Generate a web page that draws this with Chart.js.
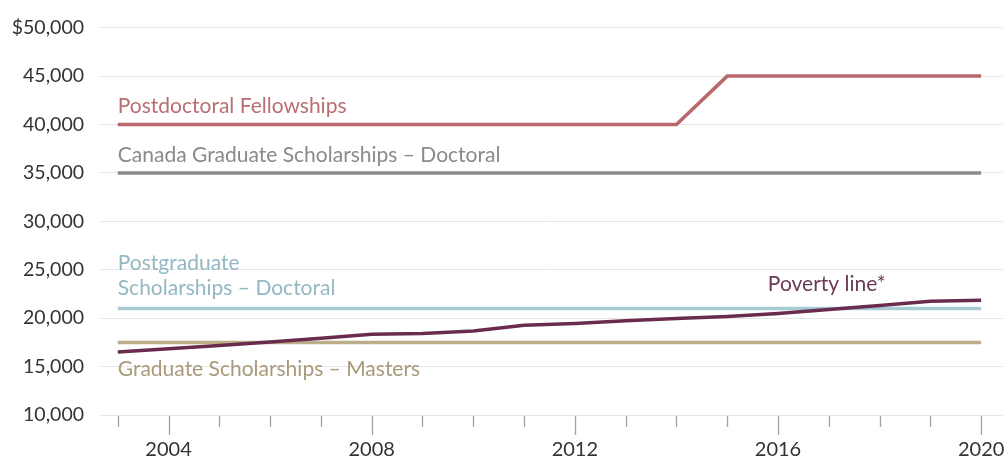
<!DOCTYPE html>
<html>
<head>
<meta charset="utf-8">
<script src="https://cdn.jsdelivr.net/npm/chart.js@4"></script>
<style>
  html, body { margin: 0; padding: 0; background: #fff; }
  #wrap { width: 1006px; height: 460px; position: relative; }
</style>
</head>
<body>
<div id="wrap"><canvas id="c"></canvas></div>
<script>
const years = [2003, 2004, 2005, 2006, 2007, 2008, 2009, 2010, 2011, 2012, 2013, 2014, 2015, 2016, 2017, 2018, 2019, 2020];
const postdoctoral = [40000, 40000, 40000, 40000, 40000, 40000, 40000, 40000, 40000, 40000, 40000, 40000, 45000, 45000, 45000, 45000, 45000, 45000];
const cgsDoctoral = [35000, 35000, 35000, 35000, 35000, 35000, 35000, 35000, 35000, 35000, 35000, 35000, 35000, 35000, 35000, 35000, 35000, 35000];
const pgsDoctoral = [21000, 21000, 21000, 21000, 21000, 21000, 21000, 21000, 21000, 21000, 21000, 21000, 21000, 21000, 21000, 21000, 21000, 21000];
const mastersCgs = [17500, 17500, 17500, 17500, 17500, 17500, 17500, 17500, 17500, 17500, 17500, 17500, 17500, 17500, 17500, 17500, 17500, 17500];
const povertyLine = [16500, 16830, 17170, 17550, 17920, 18330, 18430, 18670, 19280, 19460, 19730, 19970, 20170, 20480, 20890, 21300, 21740, 21840];
const labeledYears = [2004, 2008, 2012, 2016, 2020];
const yTicks = [10000, 15000, 20000, 25000, 30000, 35000, 40000, 45000, 50000];

const FONT = 'Lato, "Open Sans", sans-serif';

function pts(arr) { return years.map((y, i) => ({ x: y, y: arr[i] })); }

// series text labels (anchored in data coordinates)
const seriesLabels = [
  { lines: ['Postdoctoral Fellowships'], color: '#b86e72', x: 2003, y: 41850 },
  { lines: ['Canada Graduate Scholarships \u2013 Doctoral'], color: '#8a8a8a', x: 2003, y: 36800 },
  { lines: ['Postgraduate', 'Scholarships \u2013 Doctoral'], color: '#93b8c4', x: 2003, y: 25650, lh: 25 },
  { lines: ['Graduate Scholarships \u2013 Masters'], color: '#a89a7a', x: 2003, y: 14700 },
  { lines: ['Poverty line*'], color: '#6b3a57', x: 2015.8, y: 23500 }
];

const labelPlugin = {
  id: 'seriesLabels',
  afterDatasetsDraw(chart) {
    const { ctx, scales: { x, y } } = chart;
    ctx.save();
    ctx.font = '21px ' + FONT;
    ctx.textBaseline = 'middle';
    ctx.textAlign = 'left';
    seriesLabels.forEach(l => {
      ctx.fillStyle = l.color;
      const px = x.getPixelForValue(l.x);
      const py = y.getPixelForValue(l.y);
      l.lines.forEach((t, i) => ctx.fillText(t, px, py + i * (l.lh || 0)));
    });
    ctx.restore();
  }
};

const tickPlugin = {
  id: 'yearTicks',
  afterDraw(chart) {
    const { ctx, chartArea, scales: { x } } = chart;
    ctx.save();
    ctx.strokeStyle = '#a3a3a3';
    ctx.lineWidth = 1.3;
    years.forEach(yr => {
      const px = Math.round(x.getPixelForValue(yr)) + 0.5;
      const major = labeledYears.includes(yr);
      ctx.beginPath();
      ctx.moveTo(px, chartArea.bottom + 1);
      ctx.lineTo(px, chartArea.bottom + (major ? 20 : 12));
      ctx.stroke();
    });
    ctx.restore();
  }
};

function ds(label, arr, color) {
  return {
    label, data: pts(arr), borderColor: color, backgroundColor: color,
    borderWidth: 3.5, pointRadius: 0, tension: 0, fill: false,
    borderCapStyle: 'butt', borderJoinStyle: 'miter'
  };
}

new Chart(document.getElementById('c'), {
  type: 'line',
  data: {
    datasets: [
      ds('Poverty line*', povertyLine, '#6a2c4e'),
      ds('Postdoctoral Fellowships', postdoctoral, '#b9696d'),
      ds('Canada Graduate Scholarships – Doctoral', cgsDoctoral, '#8b8b8b'),
      ds('Postgraduate Scholarships – Doctoral', pgsDoctoral, '#a6cbd3'),
      ds('Graduate Scholarships – Masters', mastersCgs, '#bcae88')
    ]
  },
  options: {
    responsive: true,
    maintainAspectRatio: false,
    animation: false,
    layout: { padding: { top: 24, right: 3, left: 0, bottom: 0 } },
    plugins: { legend: { display: false }, tooltip: { enabled: false } },
    scales: {
      x: {
        type: 'linear',
        min: 2002.65,
        max: 2020.43,
        afterBuildTicks(scale) { scale.ticks = labeledYears.map(v => ({ value: v })); },
        afterFit(scale) { scale.height = 45; scale.paddingLeft = 0; scale.paddingRight = 0; },
        grid: { display: false, drawTicks: false },
        border: { display: false },
        ticks: {
          padding: 23,
          color: '#333',
          font: { family: FONT, size: 20 },
          maxRotation: 0,
          autoSkip: false,
          callback: v => String(v)
        }
      },
      y: {
        min: 10000,
        max: 50000,
        afterBuildTicks(scale) { scale.ticks = yTicks.map(v => ({ value: v })); },
        afterFit(scale) { scale.width = 100; },
        grid: { color: '#e6e6e6', lineWidth: 1, drawTicks: false },
        border: { display: false },
        ticks: {
          padding: 16,
          color: '#333',
          font: { family: FONT, size: 19.5 },
          callback: v => (v === 50000 ? '$' : '') + Number(v).toLocaleString('en-US')
        }
      }
    }
  },
  plugins: [labelPlugin, tickPlugin]
});
</script>
</body>
</html>
